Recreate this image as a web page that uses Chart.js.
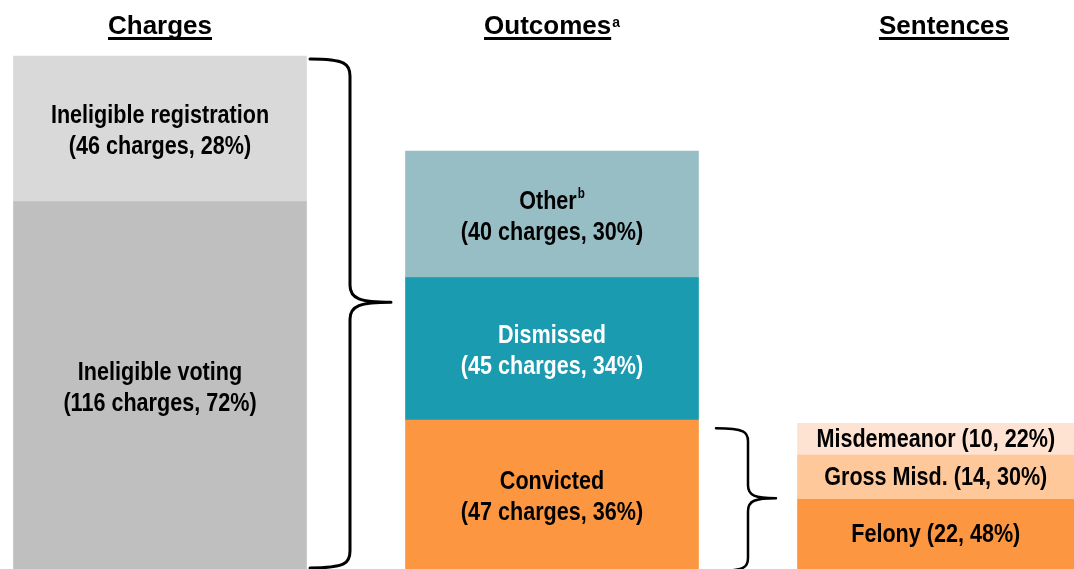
<!DOCTYPE html>
<html>
<head>
<meta charset="utf-8">
<script src="https://cdn.jsdelivr.net/npm/chart.js@4"></script>
<style>
    body { margin: 0; background: #fff; }
    #wrap { width: 1074px; height: 569px; position: relative; }
</style>
</head>
<body>
<div id="wrap"><canvas id="flowChart"></canvas></div>
<script>
// column headers
const categories = ['Charges', 'Outcomes', 'Sentences'];
const headerNotes = ['', 'a', ''];

// Charges column (bottom to top)
const chargeNames = ['Ineligible voting', 'Ineligible registration'];
const chargeCounts = [116, 46];
const chargePcts = [72, 28];

// Outcomes column (bottom to top)
const outcomeNames = ['Convicted', 'Dismissed', 'Other'];
const outcomeNotes = ['', '', 'b'];
const outcomeCounts = [47, 45, 40];
const outcomePcts = [36, 34, 30];

// Sentences column (bottom to top)
const sentenceNames = ['Felony', 'Gross Misd.', 'Misdemeanor'];
const sentenceCounts = [22, 14, 10];
const sentencePcts = [48, 30, 22];

const FONT = '"Liberation Sans", Arial, Helvetica, sans-serif';

document.addEventListener('DOMContentLoaded', function () {
    const ctx = document.getElementById('flowChart').getContext('2d');

    function makeSet(col, name, note, count, pct, color, textColor, oneLine) {
        return {
            label: name,
            data: categories.map((_, i) => i === col ? count : null),
            backgroundColor: color,
            barThickness: 293,
            clip: false,
            note: note,
            count: count,
            pct: pct,
            textColor: textColor,
            oneLine: oneLine
        };
    }

    const chargeColors = ['#BFBFBF', '#D9D9D9'];
    const outcomeColors = ['#FD9641', '#1A9BB0', '#97BDC5'];
    const outcomeText = ['#000', '#fff', '#000'];
    const sentenceColors = ['#FD9641', '#FEC89A', '#FEE3D2'];

    const datasets = [];
    chargeNames.forEach((n, i) => datasets.push(makeSet(0, n, '', chargeCounts[i], chargePcts[i], chargeColors[i], '#000', false)));
    outcomeNames.forEach((n, i) => datasets.push(makeSet(1, n, outcomeNotes[i], outcomeCounts[i], outcomePcts[i], outcomeColors[i], outcomeText[i], false)));
    sentenceNames.forEach((n, i) => datasets.push(makeSet(2, n, '', sentenceCounts[i], sentencePcts[i], sentenceColors[i], '#000', true)));

    const totalCharges = chargeCounts.reduce((s, v) => s + v, 0);

    // text with an optional superscript, centred on x; sx squeezes it horizontally
    function drawSupText(c, text, note, x, y, size, color, sx) {
        c.font = 'bold ' + size + 'px ' + FONT;
        const w = c.measureText(text).width * sx;
        let nw = 0;
        const noteSize = Math.round(size * 0.55);
        if (note) {
            c.font = 'bold ' + noteSize + 'px ' + FONT;
            nw = c.measureText(note).width * sx + 1;
        }
        const left = x - (w + nw) / 2;
        c.fillStyle = color;
        c.textAlign = 'left';
        c.save();
        c.translate(left, y);
        c.scale(sx, 1);
        c.font = 'bold ' + size + 'px ' + FONT;
        c.fillText(text, 0, 0);
        if (note) {
            c.font = 'bold ' + noteSize + 'px ' + FONT;
            c.fillText(note, (w + 1) / sx, -size * 0.28);
        }
        c.restore();
        return { left: left, width: w };
    }

    const labelPlugin = {
        id: 'segmentLabels',
        afterDatasetsDraw(chart) {
            const c = chart.ctx;
            const W = chart.width;
            c.save();
            c.textBaseline = 'middle';
            chart.data.datasets.forEach((ds, di) => {
                const col = ds.data.findIndex(v => v !== null);
                const el = chart.getDatasetMeta(di).data[col];
                const p = el.getProps(['x', 'y', 'base', 'width'], true);
                const l = Math.max(p.x - p.width / 2, 0);
                const r = Math.min(p.x + p.width / 2, W);
                const cx = (l + r) / 2;
                const cy = (p.y + p.base) / 2;
                if (ds.oneLine) {
                    drawSupText(c, `${ds.label} (${ds.count}, ${ds.pct}%)`, '', cx, cy + 1, 26, ds.textColor, 0.83);
                } else {
                    drawSupText(c, ds.label, ds.note, cx, cy - 13, 26, ds.textColor, 0.83);
                    drawSupText(c, `(${ds.count} charges, ${ds.pct}%)`, '', cx, cy + 18, 26, ds.textColor, 0.83);
                }
            });

            // column headers, underlined
            c.textBaseline = 'alphabetic';
            const xScale = chart.scales.x;
            categories.forEach((cat, i) => {
                const x = xScale.getPixelForValue(i);
                const t = drawSupText(c, cat, headerNotes[i], x, 34, 26, '#000', 1);
                c.fillRect(t.left, 37, t.width, 3);
            });
            c.restore();
        }
    };

    function drawBrace(c, x0, xv, xt, y0, y1, ym, r) {
        c.beginPath();
        c.moveTo(x0, y0);
        c.bezierCurveTo(x0 + (xv - x0) * 0.9, y0, xv, y0 + r * 0.3, xv, y0 + r);
        c.lineTo(xv, ym - r);
        c.bezierCurveTo(xv, ym - r * 0.2, xv + (xt - xv) * 0.25, ym, xt, ym);
        c.moveTo(xt, ym);
        c.bezierCurveTo(xv + (xt - xv) * 0.25, ym, xv, ym + r * 0.2, xv, ym + r);
        c.lineTo(xv, y1 - r);
        c.bezierCurveTo(xv, y1 - r * 0.3, x0 + (xv - x0) * 0.9, y1, x0, y1);
        c.stroke();
    }

    const bracePlugin = {
        id: 'braces',
        afterDatasetsDraw(chart) {
            const c = chart.ctx;
            c.save();
            c.strokeStyle = '#000';
            c.lineCap = 'round';

            // brace from all charges to the outcomes, in the gap between the bars
            const topCharge = chart.getDatasetMeta(chargeNames.length - 1).data[0].getProps(['x', 'y', 'width'], true);
            const baseCharge = chart.getDatasetMeta(0).data[0].getProps(['base'], true);
            const outBar = chart.getDatasetMeta(chargeNames.length).data[1].getProps(['x', 'y', 'base', 'width'], true);
            let mid = (topCharge.x + topCharge.width / 2 + outBar.x - outBar.width / 2) / 2;
            let y0 = topCharge.y + 3, y1 = baseCharge.base - 1;
            c.lineWidth = 3;
            drawBrace(c, mid - 46, mid - 6, mid + 35, y0, y1, y0 + (y1 - y0) * 0.478, 17);

            // brace from convicted to sentences
            const sentBar = chart.getDatasetMeta(chargeNames.length + outcomeNames.length).data[2].getProps(['x', 'width'], true);
            mid = (outBar.x + outBar.width / 2 + sentBar.x - sentBar.width / 2) / 2;
            y0 = outBar.y + 8; y1 = outBar.base + 2;
            c.lineWidth = 2.5;
            drawBrace(c, mid - 32, mid, mid + 28, y0, y1, y0 + (y1 - y0) * 0.49, 13);
            c.restore();
        }
    };

    new Chart(ctx, {
        type: 'bar',
        data: {
            labels: categories,
            datasets: datasets
        },
        options: {
            responsive: true,
            maintainAspectRatio: false,
            animation: false,
            layout: {
                padding: { top: 56, bottom: 0, left: 160, right: 130 }
            },
            plugins: {
                legend: { display: false },
                tooltip: { enabled: false }
            },
            scales: {
                x: {
                    stacked: true,
                    offset: false,
                    display: false
                },
                y: {
                    stacked: true,
                    display: false,
                    min: 0,
                    max: totalCharges
                }
            }
        },
        plugins: [labelPlugin, bracePlugin]
    });
});
</script>
</body>
</html>
